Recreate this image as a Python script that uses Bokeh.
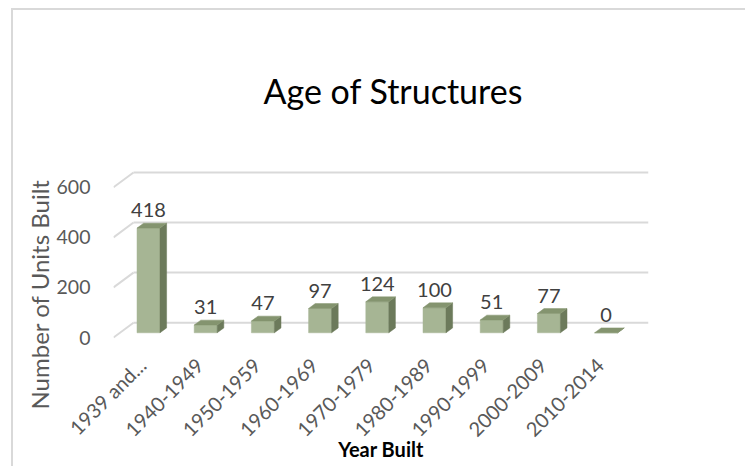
import math
from bokeh.plotting import figure
from bokeh.models import Range1d, FixedTicker, Title
from bokeh.embed import file_html
from bokeh.resources import INLINE
from bokeh.core.properties import value

# ---- data ----
categories = ["1939 and...", "1940-1949", "1950-1959", "1960-1969", "1970-1979",
              "1980-1989", "1990-1999", "2000-2009", "2010-2014"]
units = [418, 31, 47, 97, 124, 100, 51, 77, 0]
y_ticks = [0, 200, 400, 600]

# ---- style / layout ----
FONT = "Lato"
W, H = 734, 458
BL, BR, BT, BB = 100, 99, 155, 128
frame_w = W - BL - BR
frame_h = H - BT - BB
X0, X1 = -0.5, 8.853
Y0, Y1 = -11.84, 679.0
px_x = frame_w / (X1 - X0)
px_y = frame_h / (Y1 - Y0)
DX = 20 / px_x          # full depth offset (data units)
DY = 15 / px_y
F0, F1 = 0.32, 0.65     # bar depth span (fractions of full depth)
HALF = 11.5 / px_x      # half width of bar front face
LABEL_GAP = 18 / px_y

FRONT_C = "#a6b594"
SIDE_C = "#6c7a5b"
TOP_C = "#84946f"
GRID_C = "#d9d9d9"

p = figure(width=W, height=H, x_range=Range1d(X0, X1), y_range=Range1d(Y0, Y1),
           output_backend="svg", toolbar_location=None,
           min_border_left=BL, min_border_right=BR, min_border_top=BT, min_border_bottom=BB)
p.styles = {"border-left": "2px solid #d9d9d9", "border-top": "2px solid #d9d9d9",
            "margin-left": "11px", "margin-top": "8px"}
p.outline_line_color = None
p.xgrid.visible = False
p.ygrid.visible = False
p.background_fill_color = "white"
p.border_fill_color = "white"

# title
p.title.text = "Age of Structures"
p.title.align = "left"
p.title.offset = 150
p.title.text_font = FONT
p.title.text_font_size = "34px"
p.title.text_font_style = "normal"
p.title.text_color = "#000000"
p.title.standoff = 114

# y-axis title (placed as side title so it can sit below the frame centre)
ytitle = Title(text="Number of Units Built", align="left", offset=-69, standoff=0,
               text_font=FONT, text_font_size="24px", text_font_style="normal",
               text_color="#595959")
p.add_layout(ytitle, "left")

# back-wall gridlines and depth stubs
gx0, gx1, gy, sx0, sx1, sy0, sy1 = [], [], [], [], [], [], []
for t in y_ticks:
    gx0.append(X0 + DX); gx1.append(X1); gy.append(t + DY)
    sx0.append(X0); sy0.append(t); sx1.append(X0 + DX); sy1.append(t + DY)
p.segment(x0=gx0, y0=gy, x1=gx1, y1=gy, line_color=GRID_C, line_width=2)
p.segment(x0=sx0, y0=sy0, x1=sx1, y1=sy1, line_color=GRID_C, line_width=2)

# 3D bars
xs, ys, cols = [], [], []
lx, ly, lt = [], [], []
for i, (cat, v) in enumerate(zip(categories, units)):
    c = i + F0 * DX
    base = F0 * DY
    top = v + base
    ddx = (F1 - F0) * DX
    ddy = (F1 - F0) * DY
    xs.append([c - HALF, c + HALF, c + HALF, c - HALF])
    ys.append([base, base, top, top]); cols.append(FRONT_C)
    xs.append([c + HALF, c + HALF + ddx, c + HALF + ddx, c + HALF])
    ys.append([base, base + ddy, top + ddy, top]); cols.append(SIDE_C)
    xs.append([c - HALF, c + HALF, c + HALF + ddx, c - HALF + ddx])
    ys.append([top, top, top + ddy, top + ddy]); cols.append(TOP_C)
    lx.append(c); ly.append(top + LABEL_GAP); lt.append(str(v))

p.patches(xs=xs, ys=ys, fill_color=cols, line_color=cols, line_width=0.5)

p.text(x=lx, y=ly, text=lt, text_align="center", text_baseline="alphabetic",
       text_font=value(FONT), text_font_size="20px", text_color="#404040")

# axes
p.xaxis.ticker = FixedTicker(ticks=list(range(len(categories))))
p.xaxis.major_label_overrides = {i: c for i, c in enumerate(categories)}
p.xaxis.major_label_orientation = math.pi / 4
p.xaxis.major_label_text_font = FONT
p.xaxis.major_label_text_font_size = "20px"
p.xaxis.major_label_text_color = "#595959"
p.xaxis.major_label_standoff = 15
p.xaxis.axis_line_color = None
p.xaxis.major_tick_line_color = None
p.xaxis.minor_tick_line_color = None
p.xaxis.axis_label = "Year Built"
p.xaxis.axis_label_text_font = FONT
p.xaxis.axis_label_text_font_size = "20px"
p.xaxis.axis_label_text_font_style = "bold"
p.xaxis.axis_label_text_color = "#000000"
p.xaxis.axis_label_standoff = -15

p.yaxis.ticker = FixedTicker(ticks=y_ticks)
p.yaxis.major_label_text_font = FONT
p.yaxis.major_label_text_font_size = "19.5px"
p.yaxis.major_label_text_color = "#595959"
p.yaxis.major_label_standoff = 17
p.yaxis.axis_line_color = None
p.yaxis.major_tick_line_color = None
p.yaxis.minor_tick_line_color = None

open("out.html", "w").write(file_html(p, INLINE))
